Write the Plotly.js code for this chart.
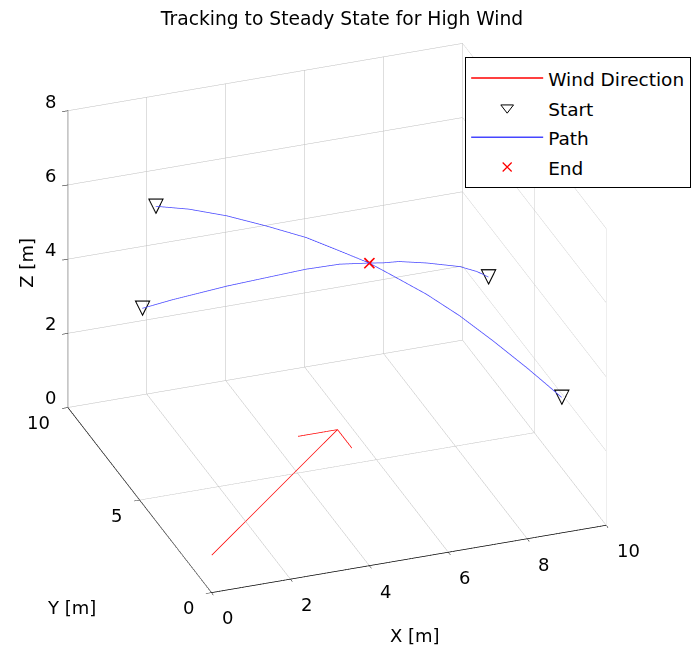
<!DOCTYPE html>
<html><head><meta charset="utf-8">
<script src="https://cdn.plot.ly/plotly-3.0.1.min.js"></script>
<style>html,body{margin:0;padding:0;background:#fff}#chart{width:691px;height:649px}</style>
</head><body><div id="chart"></div>
<script>
// Wind direction arrow (ground plane): shaft, then arrow head
const windX = [0.66, 5.65, null, 4.65, 5.65, 5.65];
const windY = [1.79, 6.75, null, 6.75, 6.75, 5.75];
const windZ = [0, 0, null, 0, 0, 0];

// Start points
const startX = [1.5, 1.16, 10, 10];
const startY = [8, 8, 8.2, 3.1];
const startZ = [6.15, 3.46, 2.6, 1.9];

// End point
const endX = [6];
const endY = [5.5];
const endZ = [5.05];

// Paths
const pathAX = [1.5, 2.2, 3.0, 3.83, 4.67, 5.37, 6];
const pathAY = [8, 7.61, 7.18, 6.71, 6.24, 5.85, 5.5];
const pathAZ = [6.15, 6.14, 6.03, 5.84, 5.61, 5.32, 5.05];
const pathBX = [1.16, 1.8, 2.95, 3.94, 4.65, 5.37, 6];
const pathBY = [8, 7.67, 7.08, 6.56, 6.2, 5.83, 5.5];
const pathBZ = [3.46, 3.74, 4.19, 4.54, 4.78, 4.97, 5.05];
const pathCX = [10, 9.8, 9.61, 9.04, 7.92, 7.0, 6.48, 6];
const pathCY = [8.2, 8.07, 7.94, 7.55, 6.79, 6.18, 5.82, 5.5];
const pathCZ = [2.6, 2.78, 2.95, 3.38, 4.06, 4.57, 4.81, 5.05];
const pathDX = [10, 9.69, 9.28, 8.58, 7.88, 7.19, 6.5, 6];
const pathDY = [3.1, 3.28, 3.53, 3.95, 4.37, 4.78, 5.2, 5.5];
const pathDZ = [1.9, 2.21, 2.61, 3.25, 3.85, 4.35, 4.76, 5.05];

// Tick labels
const xTicks = [0, 2, 4, 6, 8, 10];
const yTicks = [0, 5, 10];
const zTicks = [0, 2, 4, 6, 8];

const FONT = 'DejaVu Sans';
const TXT = {family:FONT, size:18, color:'#000'};
const join = (...arrs) => arrs.reduce((acc, a, i) => i === 0 ? a.slice() : acc.concat([null], a), []);
const leg = s => '<span style="font-size:18.5px">' + s + '</span>';

const traces = [
  {type:'scatter3d', mode:'lines', name:leg('Wind Direction'), x:windX, y:windY, z:windZ,
   line:{color:'#ff0000', width:1.5}, showlegend:true, connectgaps:false, hoverinfo:'skip'},
  {type:'scatter3d', mode:'text', name:'Start', x:startX, y:startY, z:startZ,
   text:startX.map(()=> '\u25BD'), textposition:'middle center',
   textfont:{family:FONT, size:21, color:'#000'}, showlegend:false, hoverinfo:'skip'},
  {type:'scatter', mode:'markers', name:leg('Start'), x:[null], y:[null],
   marker:{symbol:'triangle-down-open', size:11, color:'#000', line:{width:1, color:'#000'}}, showlegend:true, hoverinfo:'skip'},
  {type:'scatter3d', mode:'lines', name:leg('Path'),
   x:join(pathAX, pathBX, pathCX, pathDX), y:join(pathAY, pathBY, pathCY, pathDY), z:join(pathAZ, pathBZ, pathCZ, pathDZ),
   line:{color:'#4646ff', width:1.5}, connectgaps:false, showlegend:true, hoverinfo:'skip'},
  {type:'scatter3d', mode:'text', name:'End', x:endX, y:endY, z:endZ,
   text:['\u00D7'], textposition:'middle center', textfont:{family:FONT, size:20, color:'#ff0000'}, showlegend:false, hoverinfo:'skip'},
  {type:'scatter', mode:'markers', name:leg('End'), x:[null], y:[null],
   marker:{symbol:'x-thin-open', size:9, color:'#ff0000', line:{width:1.2, color:'#ff0000'}}, showlegend:true, hoverinfo:'skip'}
];

const axisCommon = {
  showgrid:true, gridcolor:'#bdbdbd', gridwidth:1,
  showline:true, linecolor:'#000', linewidth:1.5,
  ticks:'outside', ticklen:6, tickcolor:'#000', tickwidth:1,
  zeroline:false, showspikes:false, showbackground:false,
  showticklabels:false, title:{text:''}
};

// Tick labels and axis titles placed at 3D positions on the axes
const ann = [];
xTicks.forEach(v => ann.push({x:v, y:0, z:0, text:String(v), showarrow:false, xanchor:'left', yanchor:'middle', xshift:8, yshift:-25, font:TXT}));
yTicks.forEach(v => ann.push({x:0, y:v, z:0, text:String(v), showarrow:false, xanchor:'right', yanchor:'middle', xshift:-16, yshift:-15, font:TXT}));
zTicks.forEach(v => ann.push({x:0, y:10, z:v, text:String(v), showarrow:false, xanchor:'right', yanchor:'middle', xshift:-10, yshift:10, font:TXT}));
ann.push({x:5, y:0, z:0, text:'X [m]', showarrow:false, xanchor:'center', yanchor:'middle', xshift:6, yshift:-76, font:TXT});
ann.push({x:0, y:5, z:0, text:'Y [m]', showarrow:false, xanchor:'center', yanchor:'middle', xshift:-69, yshift:-107, font:TXT});
ann.push({x:0, y:10, z:4, text:'Z [m]', showarrow:false, xanchor:'center', yanchor:'middle', xshift:-42, yshift:-3, textangle:-90, font:TXT});

const layout = {
  width:691, height:649,
  margin:{l:0, r:0, t:0, b:0},
  paper_bgcolor:'#ffffff', plot_bgcolor:'rgba(0,0,0,0)',
  hovermode:false,
  title:{text:'Tracking to Steady State for High Wind', x:0.495, xanchor:'center', y:0.972, yanchor:'middle',
         font:{family:FONT, size:18.7, color:'#000'}},
  xaxis:{visible:false, domain:[0,0.01]}, yaxis:{visible:false, domain:[0,0.01]},
  showlegend:true,
  legend:{x:467/691, xanchor:'left', y:1-57/649, yanchor:'top', bgcolor:'#fff', bordercolor:'#000', borderwidth:1.2,
          font:{family:FONT, size:20.5, color:'#000'}, itemwidth:72, traceorder:'normal'},
  scene:{
    domain:{x:[0.002,0.979], y:[0.021,0.998]},
    aspectmode:'manual', aspectratio:{x:1.325, y:1.325, z:1.06},
    camera:{eye:{x:-0.604, y:-1.66, z:0.938}, up:{x:0,y:0,z:1}, center:{x:0,y:0,z:0}, projection:{type:'orthographic'}},
    xaxis:Object.assign({}, axisCommon, {range:[0,10], tickvals:xTicks}),
    yaxis:Object.assign({}, axisCommon, {range:[0,10], tickvals:yTicks}),
    zaxis:Object.assign({}, axisCommon, {range:[0,8], tickvals:zTicks}),
    annotations:ann
  }
};

Plotly.newPlot('chart', traces, layout, {displayModeBar:false});
</script></body></html>
